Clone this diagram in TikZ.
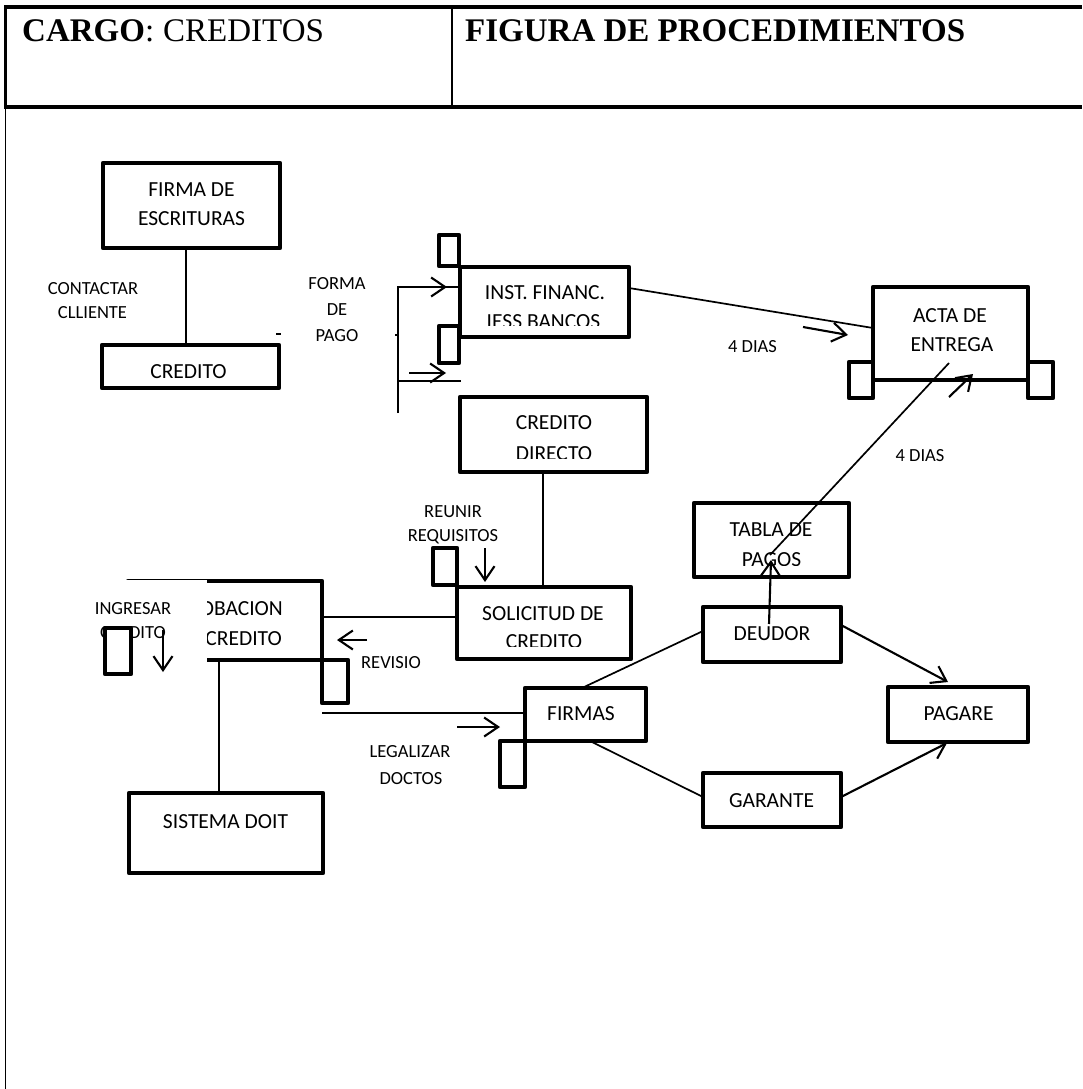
\documentclass[tikz,border=0pt]{standalone}
\usepackage{fontspec}
\setmainfont{Liberation Serif}
\newfontfamily\calfont{Carlito}
\usetikzlibrary{arrows.meta}

\begin{document}
\begin{tikzpicture}[x=1pt,y=-1pt,
  box/.style={draw, line width=4.8pt, line join=round, fill=white, inner sep=0pt, outer sep=0pt},
  tag/.style={draw, line width=4.8pt, line join=round, fill=white},
  btext/.style={font=\calfont\fontsize{21.5}{25}\selectfont, inner sep=0pt, anchor=base},
  ltext/.style={font=\calfont\fontsize{18.5}{21}\selectfont, inner sep=0pt, anchor=base},
  htext/.style={font=\fontsize{33}{36}\selectfont, inner sep=0pt, anchor=base west},
  link/.style={line width=1.7pt},
  arr/.style={line width=2.1pt, -{Straight Barb[length=14pt,width=19pt]}}]

\useasboundingbox (0,0) rectangle (1082,1089);
\fill[white] (0,0) rectangle (1082,1089);

% ---- page frame and header ----
\draw[line width=3.2pt] (4,7) -- (1082,7);
\draw[line width=3.2pt] (4,107) -- (1082,107);
\draw[line width=2.6pt] (5.5,5.5) -- (5.5,107);
\draw[line width=1.6pt] (5.5,107) -- (5.5,1089);
\draw[line width=1.6pt] (452,7) -- (452,107);
\node[htext] (cargo) at (22,42) {\textbf{CARGO}:\hspace{9pt}CREDITOS};
\node[htext] (figura) at (465,42) {\textbf{FIGURA DE PROCEDIMIENTOS}};

% ---- boxes ----
\node[box, minimum width=177pt, minimum height=85pt] (firma) at (191.5,205.5) {};
\node[box, minimum width=177pt, minimum height=43pt] (credL) at (190.5,366.5) {};
\node[box, minimum width=169pt, minimum height=70pt] (inst) at (544.5,302) {};
\node[box, minimum width=187pt, minimum height=75pt] (direct) at (553.5,434.5) {};
\node[box, minimum width=174pt, minimum height=72pt] (solic) at (544,623) {};
\node[box, minimum width=194pt, minimum height=79pt] (aprob) at (225,620.5) {};
\node[box, minimum width=194pt, minimum height=80pt] (sistema) at (226,833) {};
\node[box, minimum width=121pt, minimum height=53pt] (firmas) at (585.5,714.5) {};
\node[box, minimum width=155pt, minimum height=74pt] (tabla) at (771.5,540) {};
\node[box, minimum width=138pt, minimum height=55pt] (deudor) at (772,634.5) {};
\node[box, minimum width=138pt, minimum height=54pt] (garante) at (772,800) {};
\node[box, minimum width=140pt, minimum height=55pt] (pagare) at (958,714.5) {};
\node[box, minimum width=155pt, minimum height=93pt] (acta) at (950.5,333.5) {};

% ---- box texts ----
\node[btext] (tFirma1) at (191.5,196) {FIRMA DE};
\node[btext] (tFirma2) at (191.5,225) {ESCRITURAS};
\node[btext] (tCred) at (188.5,378) {CREDITO};
\node[btext] (tInst1) at (545,299) {INST. FINANC.};
\begin{scope}
  \clip (462,270) rectangle (627,325);
  \node[btext] (tInst2) at (543.5,328.5) {IESS BANCOS};
\end{scope}
\node[btext] (tDir1) at (554,429.5) {CREDITO};
\begin{scope}
  \clip (462,400) rectangle (645,458);
  \node[btext] (tDir2) at (554,460.5) {DIRECTO};
\end{scope}
\node[btext] (tSol1) at (543,620) {SOLICITUD DE};
\begin{scope}
  \clip (460,590) rectangle (629,646.5);
  \node[btext] (tSol2) at (544,648.5) {CREDITO};
\end{scope}
\node[btext, anchor=base east] (tApr1) at (283,615) {APROBACION};
\node[btext, anchor=base east] (tApr2) at (282,645) {CREDITO};
\node[btext] (tSis) at (225.5,828) {SISTEMA DOIT};
\node[btext] (tFir) at (581,720) {FIRMAS};
\node[btext] (tTab1) at (771,536) {TABLA DE};
\begin{scope}
  \clip (697,506) rectangle (846,565);
  \node[btext] (tTab2) at (771.5,566.5) {PAGOS};
\end{scope}
\node[btext] (tDeu) at (772,640) {DEUDOR};
\node[btext] (tGar) at (771.5,807) {GARANTE};
\node[btext] (tPag) at (958.5,720) {PAGARE};
\node[btext] (tAct1) at (950,322) {ACTA DE};
\node[btext] (tAct2) at (952,351) {ENTREGA};

% white panel hiding the left part of the approval box
\fill[white] (85,580.3) rectangle (207,666);

% ---- side tags ----
\draw[tag] (439,235) rectangle (459,266);
\draw[tag] (439,326) rectangle (459,363);
\draw[tag] (433,548) rectangle (457,585);
\draw[tag] (322,660) rectangle (348,703);
\draw[tag] (500,741) rectangle (525,787);
\draw[tag] (849,362) rectangle (873,398);
\draw[tag] (1028,362) rectangle (1053,398);

% ---- labels ----
\node[ltext] (lCon1) at (93,294) {CONTACTAR};
\node[ltext] (lCon2) at (92.5,318) {CLLIENTE};
\node[ltext] (lFor1) at (337,289) {FORMA};
\node[ltext] (lFor2) at (337,315) {DE};
\node[ltext] (lFor3) at (337,341) {PAGO};
\node[ltext] (lDias1) at (752.5,352) {4 DIAS};
\node[ltext] (lDias2) at (920,461) {4 DIAS};
\node[ltext] (lReu1) at (453,517) {REUNIR};
\node[ltext] (lReu2) at (453,541) {REQUISITOS};
\node[ltext] (lIng1) at (133,614) {INGRESAR};
\node[ltext] (lIng2) at (133,638) {CREDITO};
\node[ltext] (lRev) at (391,668) {REVISIO};
\node[ltext] (lLeg1) at (410,757) {LEGALIZAR};
\node[ltext] (lLeg2) at (411,784) {DOCTOS};

% tag that covers part of the input label
\draw[tag] (105,628) rectangle (131,674);

% ---- free end points ----
\coordinate (brTop) at (398,287);
\coordinate (brLow) at (398,381);
\coordinate (brEnd) at (398,413);
\coordinate (tickA) at (395,335);
\coordinate (tickB) at (398.5,335);
\coordinate (dashA) at (276,334);
\coordinate (dashB) at (281,334);
\coordinate (legStart) at (322,713);
\coordinate (a1s) at (398,287);   \coordinate (a1e) at (447,287);
\coordinate (a2s) at (409,373);   \coordinate (a2e) at (446,373);
\coordinate (a3s) at (803,327);   \coordinate (a3e) at (848,335);
\coordinate (a4s) at (485,548);   \coordinate (a4e) at (485,582);
\coordinate (a5s) at (367,640);   \coordinate (a5e) at (337,640);
\coordinate (a6s) at (163,630);   \coordinate (a6e) at (163,672);
\coordinate (a7s) at (457,727);   \coordinate (a7e) at (500,727);
\coordinate (a8s) at (949,397);   \coordinate (a8e) at (973,374);

% ---- connectors ----
\draw[link] ([xshift=-5.5pt]firma.south) -- ([xshift=-4.5pt]credL.north);
\draw[link] (brEnd) -- (brTop) -- (brTop -| inst.west);
\draw[link] (brLow) -- ([xshift=1pt]brLow -| inst.west);
\draw[link] (tickA) -- (tickB);
\draw[link] (dashA) -- (dashB);
\draw[link] ([yshift=14pt]inst.east) -- ([yshift=5.5pt]acta.west);
\draw[link] ([xshift=-10.5pt]direct.south) -- ([xshift=-1pt]solic.north);
\draw[link] ([yshift=6pt]solic.west) -- ([yshift=3.5pt]aprob.east);
\draw[link] ([xshift=-6pt]aprob.south) -- ([xshift=-7pt]sistema.north);
\draw[link] (legStart) -- ([yshift=1.5pt]firmas.west);
\draw[link] ([xshift=-3.5pt]firmas.north) -- ([yshift=3.5pt]deudor.west);
\draw[link] ([xshift=4.5pt]firmas.south) -- ([yshift=3pt]garante.west);
\draw[link] ([xshift=-1.5pt,yshift=-15pt]tabla.center) -- ([xshift=-1.5pt,yshift=-29.5pt]acta.center);

\draw[arr] ([yshift=9.5pt]deudor.east) -- ([xshift=-10pt,yshift=5pt]pagare.north);
\draw[arr] ([yshift=3pt]garante.east) -- ([xshift=-11pt,yshift=-1pt]pagare.south);
\draw[arr] ([xshift=-3pt,yshift=10.5pt]deudor.center) -- ([xshift=-0.5pt,yshift=17pt]tabla.south);

\draw[arr] (a1s) -- (a1e);
\draw[arr] (a2s) -- (a2e);
\draw[arr] (a3s) -- (a3e);
\draw[arr] (a4s) -- (a4e);
\draw[arr] (a5s) -- (a5e);
\draw[arr] (a6s) -- (a6e);
\draw[arr] (a7s) -- (a7e);
\draw[arr] (a8s) -- (a8e);
\end{tikzpicture}
\end{document}
